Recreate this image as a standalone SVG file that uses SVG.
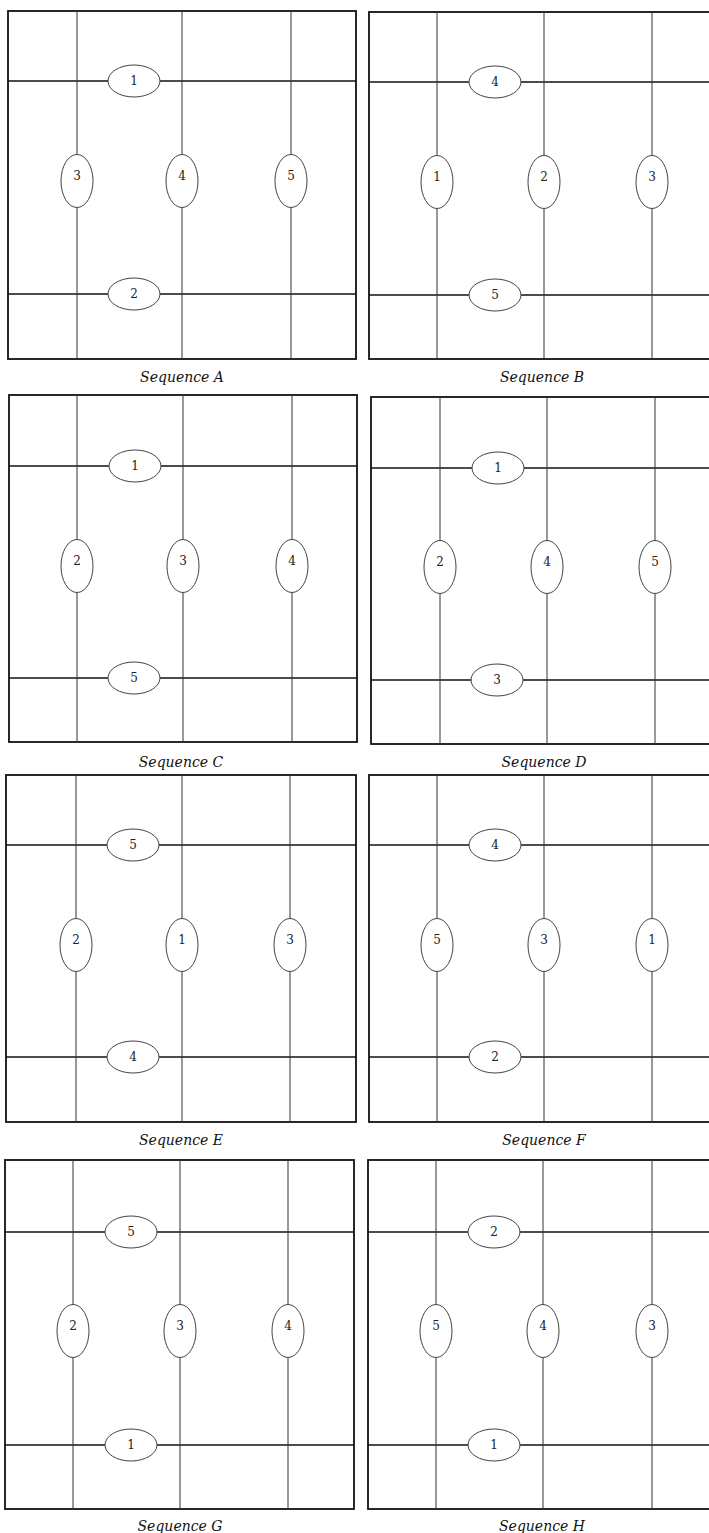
<svg xmlns="http://www.w3.org/2000/svg" width="709" height="1533" viewBox="0 0 709 1533">
<style>
.frame{fill:none;stroke:#111;stroke-width:1.8}
.h{stroke:#111;stroke-width:1.6}
.v{stroke:#333;stroke-width:1}
.node ellipse{fill:#fff;stroke:#444;stroke-width:1}
.node text{font-family:"DejaVu Serif","Liberation Serif",serif;font-size:12px;fill:#222;text-anchor:middle}
.cap{font-family:"DejaVu Serif","Liberation Serif",serif;font-style:italic;font-size:14px;fill:#111;text-anchor:middle}
</style>
<rect width="709" height="1533" fill="#fff"/>

<!-- Panel A -->
<g id="panelA">
<g id="A-connectors">
<rect class="frame" x="8" y="11" width="348" height="348"/>
<line class="h" x1="8" y1="81" x2="356" y2="81"/>
<line class="h" x1="8" y1="294" x2="356" y2="294"/>
<line class="v" x1="77" y1="11" x2="77" y2="359"/>
<line class="v" x1="182" y1="11" x2="182" y2="359"/>
<line class="v" x1="291" y1="11" x2="291" y2="359"/>
</g>
<g id="A-n1" class="node"><ellipse cx="134" cy="81" rx="26" ry="16"/><text x="134" y="85">1</text></g>
<g id="A-n2" class="node"><ellipse cx="134" cy="294" rx="26" ry="16"/><text x="134" y="298">2</text></g>
<g id="A-n3" class="node"><ellipse cx="77" cy="181" rx="16" ry="26.5"/><text x="77" y="180">3</text></g>
<g id="A-n4" class="node"><ellipse cx="182" cy="181" rx="16" ry="26.5"/><text x="182" y="180">4</text></g>
<g id="A-n5" class="node"><ellipse cx="291" cy="181" rx="16" ry="26.5"/><text x="291" y="180">5</text></g>
<text class="cap" x="182" y="382">Sequence A</text>
</g>

<!-- Panel B -->
<g id="panelB">
<g id="B-connectors">
<rect class="frame" x="369" y="12" width="345" height="347"/>
<line class="h" x1="369" y1="82" x2="714" y2="82"/>
<line class="h" x1="369" y1="295" x2="714" y2="295"/>
<line class="v" x1="437" y1="12" x2="437" y2="359"/>
<line class="v" x1="544" y1="12" x2="544" y2="359"/>
<line class="v" x1="652" y1="12" x2="652" y2="359"/>
</g>
<g id="B-n4" class="node"><ellipse cx="495" cy="82" rx="26" ry="16"/><text x="495" y="86">4</text></g>
<g id="B-n5" class="node"><ellipse cx="495" cy="295" rx="26" ry="16"/><text x="495" y="299">5</text></g>
<g id="B-n1" class="node"><ellipse cx="437" cy="182" rx="16" ry="26.5"/><text x="437" y="181">1</text></g>
<g id="B-n2" class="node"><ellipse cx="544" cy="182" rx="16" ry="26.5"/><text x="544" y="181">2</text></g>
<g id="B-n3" class="node"><ellipse cx="652" cy="182" rx="16" ry="26.5"/><text x="652" y="181">3</text></g>
<text class="cap" x="542" y="382">Sequence B</text>
</g>

<!-- Panel C -->
<g id="panelC">
<g id="C-connectors">
<rect class="frame" x="9" y="395" width="348" height="347"/>
<line class="h" x1="9" y1="466" x2="357" y2="466"/>
<line class="h" x1="9" y1="678" x2="357" y2="678"/>
<line class="v" x1="77" y1="395" x2="77" y2="742"/>
<line class="v" x1="183" y1="395" x2="183" y2="742"/>
<line class="v" x1="292" y1="395" x2="292" y2="742"/>
</g>
<g id="C-n1" class="node"><ellipse cx="135" cy="466" rx="26" ry="16"/><text x="135" y="470">1</text></g>
<g id="C-n5" class="node"><ellipse cx="134" cy="678" rx="26" ry="16"/><text x="134" y="682">5</text></g>
<g id="C-n2" class="node"><ellipse cx="77" cy="566" rx="16" ry="26.5"/><text x="77" y="565">2</text></g>
<g id="C-n3" class="node"><ellipse cx="183" cy="566" rx="16" ry="26.5"/><text x="183" y="565">3</text></g>
<g id="C-n4" class="node"><ellipse cx="292" cy="566" rx="16" ry="26.5"/><text x="292" y="565">4</text></g>
<text class="cap" x="181" y="767">Sequence C</text>
</g>

<!-- Panel D -->
<g id="panelD">
<g id="D-connectors">
<rect class="frame" x="371" y="397" width="343" height="347"/>
<line class="h" x1="371" y1="468" x2="714" y2="468"/>
<line class="h" x1="371" y1="680" x2="714" y2="680"/>
<line class="v" x1="440" y1="397" x2="440" y2="744"/>
<line class="v" x1="547" y1="397" x2="547" y2="744"/>
<line class="v" x1="655" y1="397" x2="655" y2="744"/>
</g>
<g id="D-n1" class="node"><ellipse cx="498" cy="468" rx="26" ry="16"/><text x="498" y="472">1</text></g>
<g id="D-n3" class="node"><ellipse cx="497" cy="680" rx="26" ry="16"/><text x="497" y="684">3</text></g>
<g id="D-n2" class="node"><ellipse cx="440" cy="567" rx="16" ry="26.5"/><text x="440" y="566">2</text></g>
<g id="D-n4" class="node"><ellipse cx="547" cy="567" rx="16" ry="26.5"/><text x="547" y="566">4</text></g>
<g id="D-n5" class="node"><ellipse cx="655" cy="567" rx="16" ry="26.5"/><text x="655" y="566">5</text></g>
<text class="cap" x="544" y="767">Sequence D</text>
</g>

<!-- Panel E -->
<g id="panelE">
<g id="E-connectors">
<rect class="frame" x="6" y="775" width="350" height="347"/>
<line class="h" x1="6" y1="845" x2="356" y2="845"/>
<line class="h" x1="6" y1="1057" x2="356" y2="1057"/>
<line class="v" x1="76" y1="775" x2="76" y2="1122"/>
<line class="v" x1="182" y1="775" x2="182" y2="1122"/>
<line class="v" x1="290" y1="775" x2="290" y2="1122"/>
</g>
<g id="E-n5" class="node"><ellipse cx="133" cy="845" rx="26" ry="16"/><text x="133" y="849">5</text></g>
<g id="E-n4" class="node"><ellipse cx="133" cy="1057" rx="26" ry="16"/><text x="133" y="1061">4</text></g>
<g id="E-n2" class="node"><ellipse cx="76" cy="945" rx="16" ry="26.5"/><text x="76" y="944">2</text></g>
<g id="E-n1" class="node"><ellipse cx="182" cy="945" rx="16" ry="26.5"/><text x="182" y="944">1</text></g>
<g id="E-n3" class="node"><ellipse cx="290" cy="945" rx="16" ry="26.5"/><text x="290" y="944">3</text></g>
<text class="cap" x="181" y="1145">Sequence E</text>
</g>

<!-- Panel F -->
<g id="panelF">
<g id="F-connectors">
<rect class="frame" x="369" y="775" width="345" height="347"/>
<line class="h" x1="369" y1="845" x2="714" y2="845"/>
<line class="h" x1="369" y1="1057" x2="714" y2="1057"/>
<line class="v" x1="437" y1="775" x2="437" y2="1122"/>
<line class="v" x1="544" y1="775" x2="544" y2="1122"/>
<line class="v" x1="652" y1="775" x2="652" y2="1122"/>
</g>
<g id="F-n4" class="node"><ellipse cx="495" cy="845" rx="26" ry="16"/><text x="495" y="849">4</text></g>
<g id="F-n2" class="node"><ellipse cx="495" cy="1057" rx="26" ry="16"/><text x="495" y="1061">2</text></g>
<g id="F-n5" class="node"><ellipse cx="437" cy="945" rx="16" ry="26.5"/><text x="437" y="944">5</text></g>
<g id="F-n3" class="node"><ellipse cx="544" cy="945" rx="16" ry="26.5"/><text x="544" y="944">3</text></g>
<g id="F-n1" class="node"><ellipse cx="652" cy="945" rx="16" ry="26.5"/><text x="652" y="944">1</text></g>
<text class="cap" x="544" y="1145">Sequence F</text>
</g>

<!-- Panel G -->
<g id="panelG">
<g id="G-connectors">
<rect class="frame" x="5" y="1160" width="349" height="349"/>
<line class="h" x1="5" y1="1232" x2="354" y2="1232"/>
<line class="h" x1="5" y1="1445" x2="354" y2="1445"/>
<line class="v" x1="73" y1="1160" x2="73" y2="1509"/>
<line class="v" x1="180" y1="1160" x2="180" y2="1509"/>
<line class="v" x1="288" y1="1160" x2="288" y2="1509"/>
</g>
<g id="G-n5" class="node"><ellipse cx="131" cy="1232" rx="26" ry="16"/><text x="131" y="1236">5</text></g>
<g id="G-n1" class="node"><ellipse cx="131" cy="1445" rx="26" ry="16"/><text x="131" y="1449">1</text></g>
<g id="G-n2" class="node"><ellipse cx="73" cy="1331" rx="16" ry="26.5"/><text x="73" y="1330">2</text></g>
<g id="G-n3" class="node"><ellipse cx="180" cy="1331" rx="16" ry="26.5"/><text x="180" y="1330">3</text></g>
<g id="G-n4" class="node"><ellipse cx="288" cy="1331" rx="16" ry="26.5"/><text x="288" y="1330">4</text></g>
<text class="cap" x="180" y="1531">Sequence G</text>
</g>

<!-- Panel H -->
<g id="panelH">
<g id="H-connectors">
<rect class="frame" x="368" y="1160" width="346" height="349"/>
<line class="h" x1="368" y1="1232" x2="714" y2="1232"/>
<line class="h" x1="368" y1="1445" x2="714" y2="1445"/>
<line class="v" x1="436" y1="1160" x2="436" y2="1509"/>
<line class="v" x1="543" y1="1160" x2="543" y2="1509"/>
<line class="v" x1="652" y1="1160" x2="652" y2="1509"/>
</g>
<g id="H-n2" class="node"><ellipse cx="494" cy="1232" rx="26" ry="16"/><text x="494" y="1236">2</text></g>
<g id="H-n1" class="node"><ellipse cx="494" cy="1445" rx="26" ry="16"/><text x="494" y="1449">1</text></g>
<g id="H-n5" class="node"><ellipse cx="436" cy="1331" rx="16" ry="26.5"/><text x="436" y="1330">5</text></g>
<g id="H-n4" class="node"><ellipse cx="543" cy="1331" rx="16" ry="26.5"/><text x="543" y="1330">4</text></g>
<g id="H-n3" class="node"><ellipse cx="652" cy="1331" rx="16" ry="26.5"/><text x="652" y="1330">3</text></g>
<text class="cap" x="542" y="1531">Sequence H</text>
</g>
</svg>
